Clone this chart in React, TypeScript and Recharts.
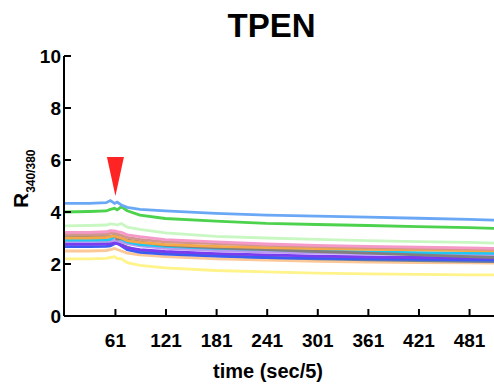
import React from "react";
import { LineChart, Line, XAxis, YAxis, ReferenceDot } from "recharts";

// sample times (sec/5)
const times = [0, 30, 50, 55, 60, 63, 68, 75, 90, 120, 180, 240, 300, 360, 420, 480, 510];

// R340/380 traces, one value per sample time
const blueTop = [4.33, 4.33, 4.36, 4.44, 4.33, 4.38, 4.27, 4.18, 4.1, 4.04, 3.95, 3.88, 3.84, 3.8, 3.76, 3.72, 3.69];
const green = [4.0, 4.02, 4.04, 4.1, 4.14, 4.08, 4.2, 4.05, 3.88, 3.75, 3.65, 3.56, 3.52, 3.48, 3.44, 3.4, 3.37];
const lightGreen = [3.47, 3.48, 3.5, 3.54, 3.52, 3.5, 3.56, 3.42, 3.33, 3.2, 3.06, 3.0, 2.95, 2.9, 2.86, 2.83, 2.8];
const pink = [3.22, 3.22, 3.24, 3.28, 3.27, 3.25, 3.22, 3.12, 3.05, 2.94, 2.85, 2.77, 2.72, 2.68, 2.65, 2.62, 2.6];
const salmon = [3.14, 3.14, 3.15, 3.18, 3.2, 3.16, 3.1, 3.02, 2.95, 2.85, 2.78, 2.72, 2.67, 2.63, 2.6, 2.57, 2.55];
const orange = [3.0, 3.0, 3.02, 3.05, 3.08, 3.04, 3.0, 2.9, 2.83, 2.75, 2.68, 2.63, 2.59, 2.56, 2.54, 2.52, 2.51];
const gray = [3.05, 3.05, 3.05, 3.06, 3.1, 2.96, 2.98, 2.92, 2.85, 2.72, 2.62, 2.55, 2.48, 2.42, 2.35, 2.28, 2.25];
const cyan = [2.92, 2.92, 2.93, 2.95, 3.05, 3.1, 2.95, 2.85, 2.75, 2.68, 2.6, 2.55, 2.5, 2.47, 2.44, 2.42, 2.41];
const lavender = [2.86, 2.86, 2.87, 2.88, 2.92, 2.9, 2.85, 2.78, 2.7, 2.6, 2.52, 2.46, 2.42, 2.4, 2.37, 2.36, 2.35];
const slate = [2.8, 2.8, 2.8, 2.82, 2.85, 2.8, 2.75, 2.65, 2.52, 2.42, 2.32, 2.25, 2.2, 2.16, 2.13, 2.1, 2.09];
const purple = [2.76, 2.76, 2.77, 2.78, 2.8, 2.78, 2.72, 2.62, 2.55, 2.48, 2.4, 2.35, 2.3, 2.27, 2.25, 2.23, 2.22];
const royal = [2.67, 2.67, 2.68, 2.7, 2.78, 2.82, 2.7, 2.55, 2.45, 2.38, 2.3, 2.25, 2.22, 2.2, 2.18, 2.16, 2.15];
const peach = [2.5, 2.5, 2.52, 2.55, 2.6, 2.56, 2.5, 2.42, 2.35, 2.28, 2.2, 2.15, 2.1, 2.07, 2.05, 2.04, 2.03];
const yellow = [2.2, 2.2, 2.22, 2.25, 2.28, 2.22, 2.2, 2.05, 1.95, 1.85, 1.75, 1.7, 1.65, 1.62, 1.6, 1.58, 1.58];

const series = [
  { key: "yellow", values: yellow, color: "#fff38a" },
  { key: "peach", values: peach, color: "#fcc898" },
  { key: "slate", values: slate, color: "#6c7f9c" },
  { key: "royal", values: royal, color: "#3b5cf2" },
  { key: "purple", values: purple, color: "#7a3cf0" },
  { key: "lavender", values: lavender, color: "#b99af2" },
  { key: "cyan", values: cyan, color: "#1ec8f2" },
  { key: "gray", values: gray, color: "#808080" },
  { key: "orange", values: orange, color: "#f5a84a" },
  { key: "salmon", values: salmon, color: "#d4968a" },
  { key: "pink", values: pink, color: "#f59ac8" },
  { key: "lightGreen", values: lightGreen, color: "#c8f7c2" },
  { key: "green", values: green, color: "#4cd24c" },
  { key: "blueTop", values: blueTop, color: "#6aa8f6" },
];

const xTicks = [61, 121, 181, 241, 301, 361, 421, 481];
const yTicks = [0, 2, 4, 6, 8, 10];

// TPEN added at t = 61
const addTime = 61;
const addMarkY = 4.62;

const data = times.map((t, i) => {
  const row: Record<string, number> = { t };
  series.forEach((s) => {
    row[s.key] = s.values[i];
  });
  return row;
});

const font = "'Liberation Sans', Arial, sans-serif";
const tickStyle = { fontSize: 19, fontWeight: 700, fill: "#000", fontFamily: font };

const Arrow = (props: any) => {
  const { cx, cy } = props;
  return (
    <polygon
      points={`${cx - 8.5},${cy - 39} ${cx + 8.5},${cy - 39} ${cx},${cy}`}
      fill="#ff2424"
    />
  );
};

const YTitle = (props: any) => {
  const { viewBox } = props;
  const x = viewBox.x + 28;
  const y = viewBox.y + viewBox.height / 2 + 22;
  return (
    <text
      x={x}
      y={y}
      transform={`rotate(-90, ${x}, ${y})`}
      fontFamily={font}
      fontWeight={700}
      fontSize={21}
      fill="#000"
    >
      R
      <tspan fontSize={12} dy={7}>
        340/380
      </tspan>
    </text>
  );
};

const XTitle = (props: any) => {
  const { viewBox } = props;
  return (
    <text
      x={viewBox.x + viewBox.width / 2 - 11}
      y={viewBox.y + 62}
      textAnchor="middle"
      fontFamily={font}
      fontWeight={700}
      fontSize={20}
      fill="#000"
    >
      time (sec/5)
    </text>
  );
};

export default function App() {
  return (
    <div style={{ position: "absolute", left: 0, top: 0, width: 494, height: 384, background: "#fff" }}>
      <svg width={494} height={50} style={{ position: "absolute", left: 0, top: 0 }}>
        <text x={271.5} y={37} textAnchor="middle" fontFamily={font} fontWeight={700} fontSize={33} fill="#000">
          TPEN
        </text>
      </svg>
      <LineChart width={494} height={384} data={data} margin={{ top: 56, right: 0, bottom: 0, left: 0 }}>
        <XAxis
          dataKey="t"
          type="number"
          domain={[0, 510]}
          ticks={xTicks}
          height={68}
          tickSize={-7}
          tickMargin={25}
          tick={tickStyle}
          axisLine={{ stroke: "#000", strokeWidth: 2 }}
          tickLine={{ stroke: "#000", strokeWidth: 2 }}
          label={<XTitle />}
          interval={0}
        />
        <YAxis
          type="number"
          domain={[0, 10]}
          ticks={yTicks}
          width={64}
          tickSize={-7}
          tickMargin={10}
          tick={tickStyle}
          axisLine={{ stroke: "#000", strokeWidth: 2 }}
          tickLine={{ stroke: "#000", strokeWidth: 2 }}
          label={<YTitle />}
          interval={0}
        />
        {series.map((s) => (
          <Line
            key={s.key}
            dataKey={s.key}
            stroke={s.color}
            strokeWidth={2.8}
            dot={false}
            type="linear"
            isAnimationActive={false}
          />
        ))}
        <ReferenceDot x={addTime} y={addMarkY} ifOverflow="visible" shape={<Arrow />} />
      </LineChart>
    </div>
  );
}
